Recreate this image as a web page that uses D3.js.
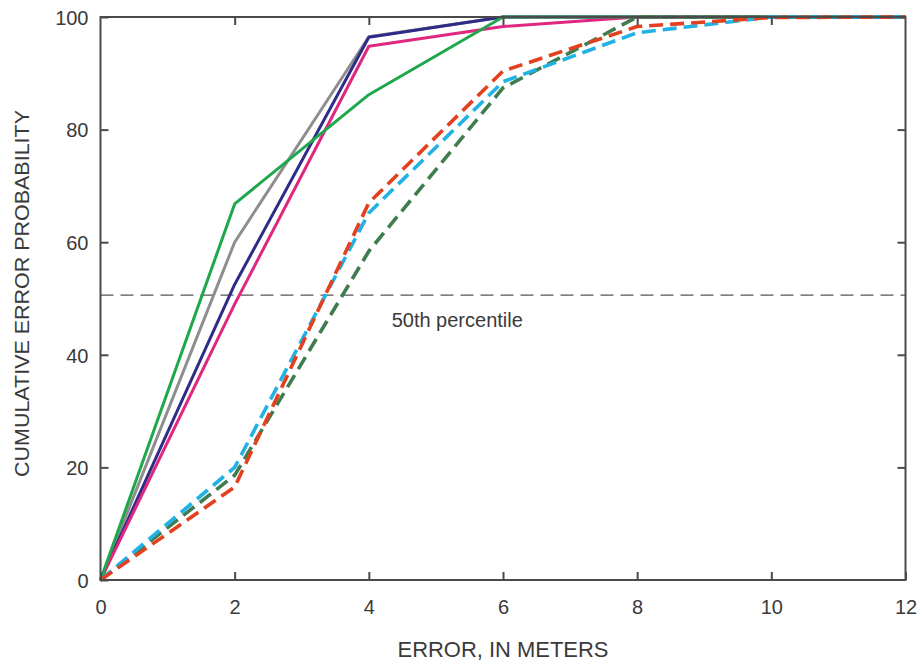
<!DOCTYPE html>
<html>
<head>
<meta charset="utf-8">
<script src="https://cdn.jsdelivr.net/npm/d3@7"></script>
<style>
  html, body { margin: 0; padding: 0; background: #fff; }
  svg { display: block; font-family: "Liberation Sans", Arial, sans-serif; }
</style>
</head>
<body>
<svg id="chart" width="917" height="661"></svg>
<script>
// error distance, in meters
const errors = [0, 2, 4, 6, 8, 10, 12]
const xTicks = [0, 2, 4, 6, 8, 10, 12]
const yTicks = [0, 20, 40, 60, 80, 100]

// cumulative error probability per run
const solidGray    = [0, 60.0, 96.5, 100, 100, 100, 100]
const solidNavy    = [0, 52.5, 96.4, 100, 100, 100, 100]
const solidMagenta = [0, 49.0, 94.8, 98.3, 100, 100, 100]
const solidGreen   = [0, 66.8, 86.2, 100, 100, 100, 100]
const dashDkGreen  = [0, 18.6, 58.4, 87.4, 100, 100, 100]
const dashCyan     = [0, 20.0, 65.2, 88.5, 97.2, 100, 100]
const dashRed      = [0, 16.5, 67.0, 90.4, 98.3, 99.9, 100]

const percentileLine = 50.6
const percentileText = "50th percentile"

const series = [
    { values: solidGray, color: "#8e8e8e", dash: null },
    { values: solidNavy, color: "#2e2c88", dash: null },
    { values: solidMagenta, color: "#e0277f", dash: null },
    { values: solidGreen, color: "#1ea84b", dash: null },
    { values: dashDkGreen, color: "#3f7c50", dash: "14,7" },
    { values: dashCyan, color: "#22b1e4", dash: "14,7" },
    { values: dashRed, color: "#e2401f", dash: "14,7" },
]

const margin = { top: 17, right: 11.5, bottom: 81, left: 100.5 }
const width = 917, height = 661
const svg = d3.select("#chart")

const x = d3.scaleLinear().domain([0, 12]).range([margin.left, width - margin.right])
const y = d3.scaleLinear().domain([0, 100]).range([height - margin.bottom, margin.top])

const axisColor = "#4a4a4a"
const textColor = "#3a3a3a"
const tickLen = 8

// 50th percentile reference
svg.append("line")
    .attr("x1", x(0)).attr("x2", x(12))
    .attr("y1", y(percentileLine)).attr("y2", y(percentileLine))
    .attr("stroke", "#555").attr("stroke-width", 1.2)
    .attr("stroke-dasharray", "13,7")

svg.append("text")
    .attr("x", x(4.34))
    .attr("y", y(percentileLine) + 32)
    .attr("font-size", 20)
    .attr("fill", textColor)
    .text(percentileText)

// lines
const line = d3.line()
    .x((d, i) => x(errors[i]))
    .y(d => y(d))

svg.append("g")
    .selectAll("path")
    .data(series)
    .join("path")
    .attr("d", d => line(d.values))
    .attr("fill", "none")
    .attr("stroke", d => d.color)
    .attr("stroke-width", d => d.dash ? 3.6 : 3)
    .attr("stroke-dasharray", d => d.dash)
    .attr("stroke-linejoin", "round")

// axes, ticks pointing inward on all four sides
const frame = svg.append("g").attr("fill", "none").attr("stroke", axisColor).attr("stroke-width", 2)
frame.append("rect")
    .attr("x", x(0)).attr("y", y(100))
    .attr("width", x(12) - x(0)).attr("height", y(0) - y(100))

const bottomAxis = svg.append("g")
    .attr("transform", `translate(0,${y(0)})`)
    .call(d3.axisBottom(x).tickValues(xTicks).tickSizeInner(-tickLen).tickSizeOuter(0).tickPadding(20))
const topAxis = svg.append("g")
    .attr("transform", `translate(0,${y(100)})`)
    .call(d3.axisTop(x).tickValues(xTicks.slice(1, -1)).tickSizeInner(-tickLen).tickSizeOuter(0).tickFormat(""))
const leftAxis = svg.append("g")
    .attr("transform", `translate(${x(0)},0)`)
    .call(d3.axisLeft(y).tickValues(yTicks).tickSizeInner(-tickLen).tickSizeOuter(0).tickPadding(12))
const rightAxis = svg.append("g")
    .attr("transform", `translate(${x(12)},0)`)
    .call(d3.axisRight(y).tickValues(yTicks.slice(1, -1)).tickSizeInner(-tickLen).tickSizeOuter(0).tickFormat(""))

for (const a of [bottomAxis, topAxis, leftAxis, rightAxis]) {
    a.select(".domain").remove()
    a.selectAll(".tick line").attr("stroke", axisColor).attr("stroke-width", 2)
    a.selectAll(".tick text")
        .attr("font-size", 20)
        .attr("font-family", "Liberation Sans, Arial, sans-serif")
        .attr("fill", textColor)
}
leftAxis.selectAll(".tick text").attr("dy", "0.36em")

// axis titles
svg.append("text")
    .attr("x", (x(0) + x(12)) / 2)
    .attr("y", 657)
    .attr("text-anchor", "middle")
    .attr("font-size", 22)
    .attr("fill", textColor)
    .attr("textLength", 211)
    .attr("lengthAdjust", "spacingAndGlyphs")
    .text("ERROR, IN METERS")

svg.append("text")
    .attr("transform", `translate(29,${(110 + 477) / 2}) rotate(-90)`)
    .attr("text-anchor", "middle")
    .attr("font-size", 19.5)
    .attr("fill", textColor)
    .attr("textLength", 367)
    .attr("lengthAdjust", "spacingAndGlyphs")
    .text("CUMULATIVE ERROR PROBABILITY")
</script>
</body>
</html>
